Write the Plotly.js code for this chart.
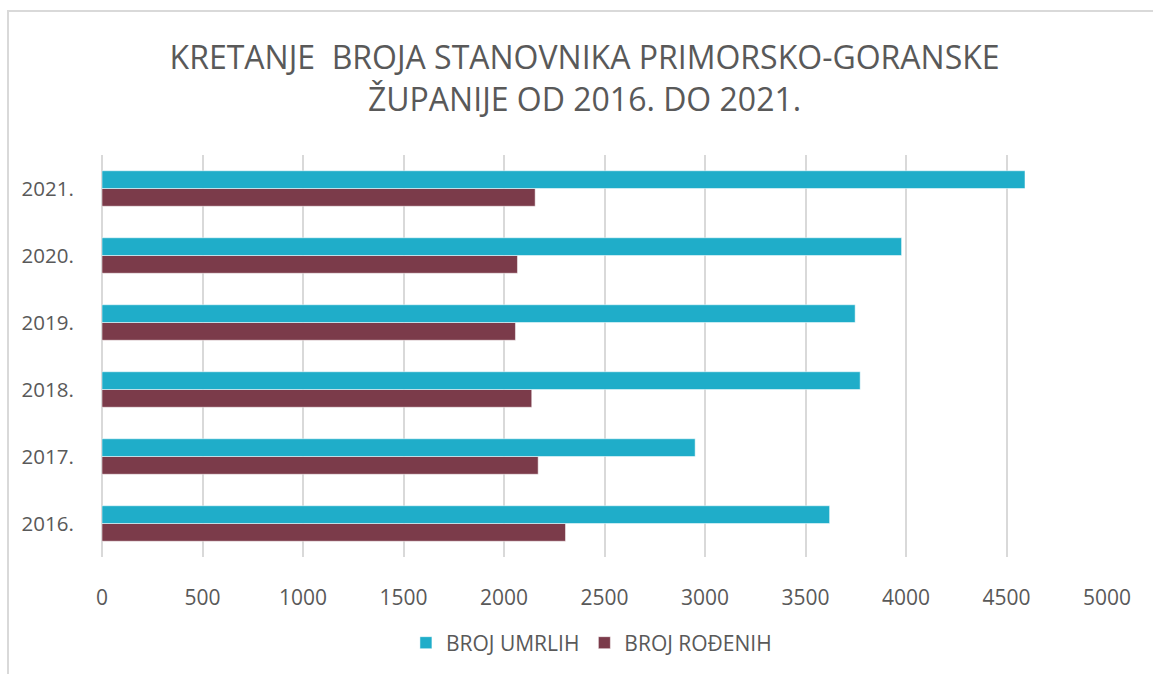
<!DOCTYPE html>
<html>
<head>
<meta charset="utf-8">
<script src="https://cdn.plot.ly/plotly-3.0.1.min.js"></script>
<style>
  html, body { margin: 0; padding: 0; background: #ffffff; overflow: hidden; }
  #frame { position: absolute; left: 7px; top: 10px; width: 1300px; height: 800px; border-left: 2px solid #d9d9d9; border-top: 2px solid #d9d9d9; pointer-events: none; z-index: 5; }
  #chart { position: absolute; left: 0; top: 0; width: 1153px; height: 674px; }
</style>
</head>
<body>
<div id="chart"></div>
<div id="frame"></div>
<script>
const years = ["2016.", "2017.", "2018.", "2019.", "2020.", "2021."];
const umrlih = [3620, 2951, 3772, 3747, 3978, 4592];
const rodenih = [2306, 2170, 2138, 2057, 2067, 2155];
const seriesNames = ["BROJ UMRLIH", "BROJ ROĐENIH"];
const xTicks = [0, 500, 1000, 1500, 2000, 2500, 3000, 3500, 4000, 4500, 5000];

const FONT = "Open Sans, Lato, sans-serif";
const TXT = "#595959";

const traces = [
  {
    type: "bar", orientation: "h", name: seriesNames[1],
    y: years, x: rodenih,
    marker: { color: "#7B3B4A", line: { color: "rgba(255,255,255,0.5)", width: 1 } },
    legendrank: 2, hoverinfo: "x+name"
  },
  {
    type: "bar", orientation: "h", name: seriesNames[0],
    y: years, x: umrlih,
    marker: { color: "#1FADC9", line: { color: "rgba(255,255,255,0.5)", width: 1 } },
    legendrank: 1, hoverinfo: "x+name"
  }
];

const layout = {
  width: 1153, height: 674,
  paper_bgcolor: "#ffffff", plot_bgcolor: "#ffffff",
  margin: { l: 102, r: 46, t: 155, b: 116 },
  font: { family: FONT, color: TXT },
  title: {
    text: "KRETANJE  BROJA STANOVNIKA PRIMORSKO-GORANSKE<br>ŽUPANIJE OD 2016. DO 2021.",
    font: { family: FONT, size: 32, color: TXT },
    x: 0.507, xanchor: "center", xref: "container",
    y: 0.897, yanchor: "middle", yref: "container"
  },
  barmode: "group",
  bargap: 0.47, bargroupgap: 0,
  xaxis: {
    range: [0, 5000], tickvals: xTicks, ticktext: xTicks.map(String),
    showgrid: true, gridcolor: "#d9d9d9", gridwidth: 2,
    zeroline: true, zerolinecolor: "#d9d9d9", zerolinewidth: 2,
    showline: false,
    ticks: "outside", ticklen: 22, tickcolor: "rgba(0,0,0,0)",
    tickfont: { family: FONT, size: 21, color: TXT },
    fixedrange: true
  },
  yaxis: {
    type: "category", categoryorder: "array", categoryarray: years,
    showgrid: false, zeroline: false, showline: false,
    ticks: "outside", ticklen: 23, tickcolor: "rgba(0,0,0,0)",
    tickfont: { family: FONT, size: 20.5, color: TXT },
    fixedrange: true
  },
  showlegend: true,
  legend: {
    orientation: "h", x: 0.487, xanchor: "center", y: -0.211, yanchor: "middle",
    font: { family: FONT, size: 21, color: TXT },
    traceorder: "normal", itemwidth: 30
  }
};

Plotly.newPlot("chart", traces, layout, { displayModeBar: false, staticPlot: true });
</script>
</body>
</html>
